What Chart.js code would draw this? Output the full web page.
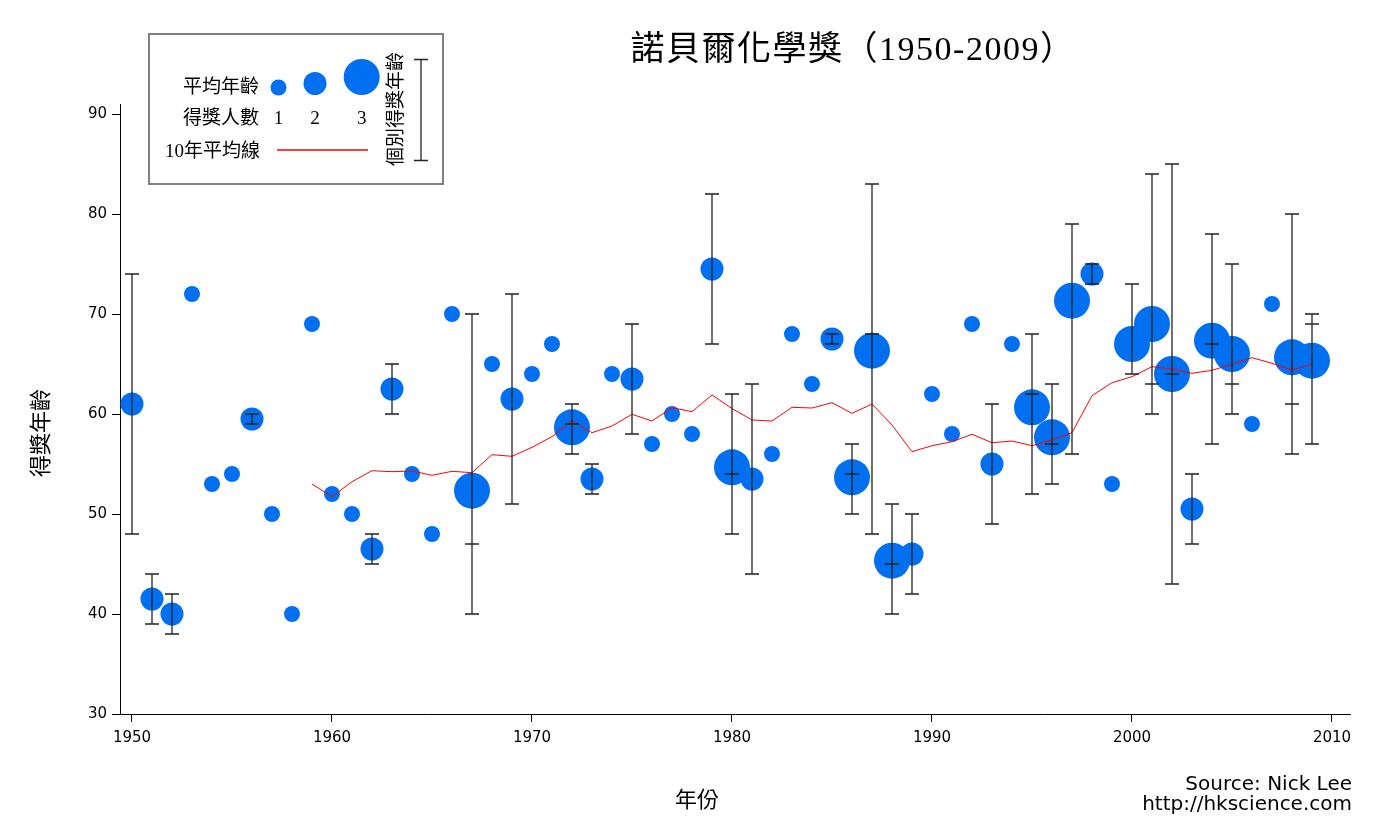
<!DOCTYPE html>
<html>
<head>
<meta charset="utf-8">
<title>諾貝爾化學獎（1950-2009）</title>
<script src="https://cdn.jsdelivr.net/npm/chart.js@4.4.1/dist/chart.umd.min.js"></script>
<style>
  html, body { margin: 0; padding: 0; background: #fff; }
  #chart { display: block; }
</style>
</head>
<body>
<canvas id="chart" width="1400" height="840"></canvas>
<script>
// ---------------- data ----------------
const years = [
  1950, 1951, 1952, 1953, 1954, 1955, 1956, 1957, 1958, 1959,
  1960, 1961, 1962, 1963, 1964, 1965, 1966, 1967, 1968, 1969,
  1970, 1971, 1972, 1973, 1974, 1975, 1976, 1977, 1978, 1979,
  1980, 1981, 1982, 1983, 1984, 1985, 1986, 1987, 1988, 1989,
  1990, 1991, 1992, 1993, 1994, 1995, 1996, 1997, 1998, 1999,
  2000, 2001, 2002, 2003, 2004, 2005, 2006, 2007, 2008, 2009
];

// average age of the year's laureates
const avgAge = [
  61, 41.5, 40, 72, 53, 54, 59.5, 50, 40, 69,
  52, 50, 46.5, 62.5, 54, 48, 70, 52.33, 65, 61.5,
  64, 67, 58.67, 53.5, 64, 63.5, 57, 60, 58, 74.5,
  54.67, 53.5, 56, 68, 63, 67.5, 53.67, 66.33, 45.33, 46,
  62, 58, 69, 55, 67, 60.67, 57.67, 71.33, 74, 53,
  67, 69, 64, 50.5, 67.33, 66, 59, 71, 65.67, 65.33
];

// number of laureates
const winners = [
  2, 2, 2, 1, 1, 1, 2, 1, 1, 1,
  1, 1, 2, 2, 1, 1, 1, 3, 1, 2,
  1, 1, 3, 2, 1, 2, 1, 1, 1, 2,
  3, 2, 1, 1, 1, 2, 3, 3, 3, 2,
  1, 1, 1, 2, 1, 3, 3, 3, 2, 1,
  3, 3, 3, 2, 3, 3, 1, 1, 3, 3
];

// individual ages: youngest, middle (3 laureates only), oldest
const lowAge = [
  48, 39, 38, null, null, null, 59, null, null, null,
  null, null, 45, 60, null, null, null, 40, null, 51,
  null, null, 56, 52, null, 58, null, null, null, 67,
  48, 44, null, null, null, 67, 50, 48, 40, 42,
  null, null, null, 49, null, 52, 53, 56, 73, null,
  64, 60, 43, 47, 57, 60, null, null, 56, 57
];
const midAge = [
  null, null, null, null, null, null, null, null, null, null,
  null, null, null, null, null, null, null, 47, null, null,
  null, null, 59, null, null, null, null, null, null, null,
  54, null, null, null, null, null, 54, 68, 45, null,
  null, null, null, null, null, 62, 57, 79, null, null,
  64, 63, 64, null, 67, 63, null, null, 61, 69
];
const highAge = [
  74, 44, 42, null, null, null, 60, null, null, null,
  null, null, 48, 65, null, null, null, 70, null, 72,
  null, null, 61, 55, null, 69, null, null, null, 82,
  62, 63, null, null, null, 68, 57, 83, 51, 50,
  null, null, null, 61, null, 68, 63, 79, 75, null,
  73, 84, 85, 54, 78, 75, null, null, 80, 70
];

// 10-year average line, 1959-2009
const trendYears = years.slice(9);
const trendAge = [
  53.0,
  51.73, 53.23, 54.33, 54.23, 54.3, 53.87, 54.27, 54.13, 55.93, 55.77,
  56.67, 57.73, 59.33, 58.13, 58.8, 59.97, 59.3, 60.63, 60.23, 61.9,
  60.55, 59.4, 59.3, 60.67, 60.6, 61.13, 60.07, 61.0, 58.9, 56.23,
  56.83, 57.23, 57.97, 57.13, 57.3, 56.83, 57.4, 58.13, 61.83, 63.13,
  63.73, 64.73, 64.5, 64.07, 64.37, 64.97, 65.63, 65.07, 64.4, 64.97
];

const xTicks = [1950, 1960, 1970, 1980, 1990, 2000, 2010];
const yTicks = [30, 40, 50, 60, 70, 80, 90];

// ---------------- styles ----------------
const BLUE = "#0070f0";
const RED = "#ff0000";
const BAR = "#222222";
const bubbleSize = { 1: 8, 2: 11.5, 3: 18 };
const SERIF = '"Liberation Serif", "Noto Sans CJK TC", serif';
const SANS = '"DejaVu Sans", "Noto Sans CJK TC", sans-serif';

function capLine(ctx, x, y, half) {
  ctx.moveTo(x - half, y);
  ctx.lineTo(x + half, y);
}

// individual-age ranges drawn as error bars on top of the bubbles
const errorBars = {
  id: "errorBars",
  afterDatasetsDraw(chart) {
    const { ctx, scales: { x, y } } = chart;
    ctx.save();
    ctx.strokeStyle = BAR;
    ctx.lineWidth = 1.3;
    ctx.beginPath();
    years.forEach((yr, i) => {
      if (lowAge[i] == null) return;
      const px = x.getPixelForValue(yr);
      const top = y.getPixelForValue(highAge[i]);
      const bot = y.getPixelForValue(lowAge[i]);
      ctx.moveTo(px, top);
      ctx.lineTo(px, bot);
      capLine(ctx, px, top, 7);
      capLine(ctx, px, bot, 7);
      if (midAge[i] != null) capLine(ctx, px, y.getPixelForValue(midAge[i]), 7);
    });
    ctx.stroke();
    ctx.restore();
  }
};

// title, axis titles, source and the boxed legend
const decorations = {
  id: "decorations",
  afterDraw(chart) {
    const ctx = chart.ctx;
    ctx.save();
    ctx.fillStyle = "#000";
    ctx.textBaseline = "middle";

    ctx.textAlign = "center";
    ctx.font = "34px " + SERIF;
    ctx.letterSpacing = "1.5px";
    ctx.fillText("諾貝爾化學獎（1950-2009）", 853, 51);
    ctx.letterSpacing = "0px";

    ctx.font = "22px " + SERIF;
    ctx.fillText("年份", 697, 801);
    ctx.save();
    ctx.translate(42, 433);
    ctx.rotate(-Math.PI / 2);
    ctx.fillText("得獎年齡", 0, 0);
    ctx.restore();

    ctx.textAlign = "right";
    ctx.font = "20px " + SANS;
    ctx.fillText("Source: Nick Lee", 1352, 785);
    ctx.fillText("http://hkscience.com", 1352, 805);

    // legend box
    ctx.strokeStyle = "#808080";
    ctx.lineWidth = 2;
    ctx.strokeRect(149, 34, 294, 150);

    ctx.font = "19px " + SERIF;
    ctx.fillText("平均年齡", 259, 88);
    ctx.fillText("得獎人數", 259, 119);
    ctx.fillText("10年平均線", 260, 152);

    ctx.fillStyle = BLUE;
    [[278.5, 87.5, 1], [315, 83.5, 2], [361.7, 77, 3]].forEach(([cx, cy, n]) => {
      ctx.beginPath();
      ctx.arc(cx, cy, bubbleSize[n], 0, Math.PI * 2);
      ctx.fill();
    });
    ctx.fillStyle = "#000";
    ctx.textAlign = "center";
    ctx.fillText("1", 278.5, 119);
    ctx.fillText("2", 315, 119);
    ctx.fillText("3", 361.7, 119);

    ctx.strokeStyle = RED;
    ctx.lineWidth = 1.3;
    ctx.beginPath();
    ctx.moveTo(277, 150);
    ctx.lineTo(368, 150);
    ctx.stroke();

    ctx.save();
    ctx.translate(397, 109);
    ctx.rotate(-Math.PI / 2);
    ctx.fillText("個別得獎年齡", 0, 0);
    ctx.restore();

    ctx.strokeStyle = BAR;
    ctx.lineWidth = 1.3;
    ctx.beginPath();
    ctx.moveTo(421, 59.5);
    ctx.lineTo(421, 160.5);
    capLine(ctx, 421, 59.5, 7);
    capLine(ctx, 421, 160.5, 7);
    ctx.stroke();
    ctx.restore();
  }
};

const chartEle = document.getElementById("chart").getContext("2d");

const chart = new Chart(chartEle, {
  type: "bubble",
  data: {
    datasets: [
      {
        type: "line",
        data: trendYears.map((yr, i) => ({ x: yr, y: trendAge[i] })),
        borderColor: RED,
        borderWidth: 1,
        pointRadius: 0,
        fill: false,
        order: 0,
      },
      {
        data: years.map((yr, i) => ({ x: yr, y: avgAge[i], r: bubbleSize[winners[i]] })),
        backgroundColor: BLUE,
        borderWidth: 0,
        order: 1,
      },
    ],
  },
  options: {
    responsive: false,
    animation: false,
    devicePixelRatio: 1,
    layout: { padding: { left: 0, right: 50, top: 104, bottom: 0 } },
    plugins: {
      legend: { display: false },
      tooltip: { enabled: false },
    },
    scales: {
      x: {
        type: "linear",
        min: 1949.4,
        max: 2010.9,
        grid: { drawOnChartArea: false, drawTicks: true, tickLength: 8, color: "#000" },
        border: { display: true, color: "#000", width: 1 },
        ticks: {
          color: "#000",
          font: { family: SANS, size: 15 },
          padding: 7,
          callback: (v) => String(v),
        },
        afterBuildTicks: (scale) => { scale.ticks = xTicks.map((v) => ({ value: v })); },
        afterFit: (scale) => { scale.height = 126; scale.paddingLeft = 0; scale.paddingRight = 0; },
      },
      y: {
        type: "linear",
        min: 30,
        max: 91,
        grid: { drawOnChartArea: false, drawTicks: true, tickLength: 8, color: "#000" },
        border: { display: true, color: "#000", width: 1 },
        ticks: {
          color: "#000",
          font: { family: SANS, size: 15 },
          padding: 5,
          callback: (v) => String(v),
        },
        afterBuildTicks: (scale) => { scale.ticks = yTicks.map((v) => ({ value: v })); },
        afterFit: (scale) => { scale.width = 120; scale.paddingTop = 0; scale.paddingBottom = 0; },
      },
    },
  },
  plugins: [errorBars, decorations],
});
</script>
</body>
</html>
